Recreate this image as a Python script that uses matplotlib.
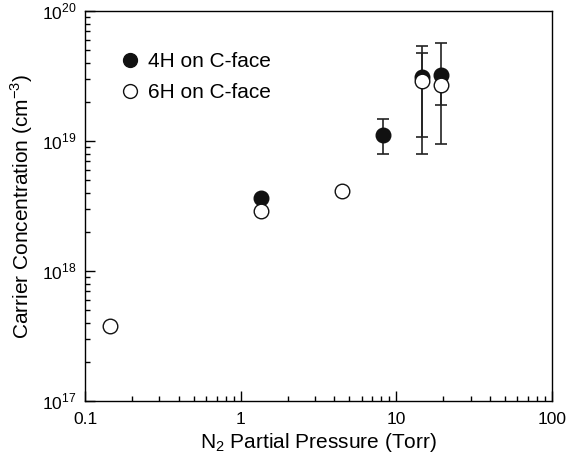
import matplotlib
matplotlib.use("Agg")
import matplotlib.pyplot as plt
import numpy as np

plt.rcParams['font.family'] = ['Liberation Sans', 'DejaVu Sans']
plt.rcParams['mathtext.fontset'] = 'custom'
plt.rcParams['mathtext.rm'] = 'Liberation Sans'

# 4H on C-face
p_4h = [1.35, 8.2, 14.7, 19.5]
n_4h = [3.65e18, 1.12e19, 3.13e19, 3.22e19]
n_4h_lo = [3.65e18, 7.9e18, 7.9e18, 9.5e18]
n_4h_hi = [3.65e18, 1.47e19, 5.4e19, 5.67e19]

# 6H on C-face
p_6h = [0.144, 1.35, 4.45, 14.7, 19.5]
n_6h = [3.8e17, 2.9e18, 4.1e18, 2.9e19, 2.7e19]
n_6h_lo = [3.8e17, 2.9e18, 4.1e18, 1.08e19, 1.89e19]
n_6h_hi = [3.8e17, 2.9e18, 4.1e18, 4.78e19, 3.1e19]

x_ticks = [0.1, 1, 10, 100]
x_ticklabels = ['0.1', '1', '10', '100']
y_ticks = [1e17, 1e18, 1e19, 1e20]
y_ticklabels = [r'10$^{17}$', r'10$^{18}$', r'10$^{19}$', r'10$^{20}$']

fig = plt.figure(figsize=(5.7, 4.62), dpi=100)
ax = fig.add_axes([85/570, 1-401/462, (552-85)/570, (401-11)/462])

def errs(v, lo, hi):
    v = np.array(v); lo = np.array(lo); hi = np.array(hi)
    return np.vstack([v - lo, hi - v])

ax.errorbar(p_6h, n_6h, yerr=errs(n_6h, n_6h_lo, n_6h_hi), fmt='none',
            ecolor='#222222', elinewidth=1.2, capsize=4, capthick=1.2, zorder=2)
ax.errorbar(p_4h, n_4h, yerr=errs(n_4h, n_4h_lo, n_4h_hi), fmt='none',
            ecolor='#222222', elinewidth=1.2, capsize=4, capthick=1.2, zorder=2)

ax.plot(p_4h, n_4h, 'o', ms=10.5, mfc='#111111', mec='#111111', mew=1.0,
        ls='none', zorder=3, label='4H on C-face')
ax.plot(p_6h, n_6h, 'o', ms=10.5, mfc='white', mec='#111111', mew=1.0,
        ls='none', zorder=4, label='6H on C-face')

ax.set_xscale('log')
ax.set_yscale('log')
ax.set_xlim(0.1, 100)
ax.set_ylim(1e17, 1e20)
ax.set_xticks(x_ticks)
ax.set_xticklabels(x_ticklabels)
ax.set_yticks(y_ticks)
ax.set_yticklabels(y_ticklabels)
ax.tick_params(which='major', direction='in', length=7, width=1, labelsize=12.5)
ax.tick_params(axis='x', which='major', pad=8)
ax.tick_params(axis='y', which='major', pad=6)
ax.tick_params(which='minor', direction='in', length=3.5, width=1)
ax.tick_params(top=False, right=False, which='both')
for s in ax.spines.values():
    s.set_linewidth(1.0)

ax.set_xlabel(r'N$_2$ Partial Pressure (Torr)', fontsize=15, labelpad=3)
ax.set_ylabel(r'Carrier Concentration (cm$^{-3}$)', fontsize=15, labelpad=5)

ax.legend(loc='upper left', bbox_to_anchor=(0.079, 0.894), frameon=False,
          fontsize=15, handletextpad=0.47, labelspacing=0.55, borderaxespad=0,
          borderpad=0, handlelength=0.8, markerscale=0.95)

fig.savefig('out.png', dpi=100)
